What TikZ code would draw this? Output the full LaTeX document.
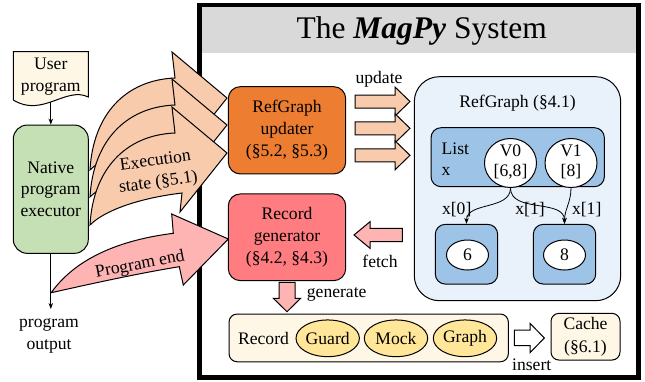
\documentclass[tikz,border=0pt]{standalone}
\usepackage{fontspec}
\setmainfont{Liberation Serif}
\usetikzlibrary{arrows.meta,shapes.geometric,calc}
\definecolor{cream}{HTML}{FFF7E5}
\definecolor{execgreen}{HTML}{C5E0B4}
\definecolor{lorange}{HTML}{F8CBAD}
\definecolor{updorange}{HTML}{ED7D31}
\definecolor{recred}{HTML}{FF7C80}
\definecolor{lpink}{HTML}{FFB4B4}
\definecolor{rgbg}{HTML}{E9F1FA}
\definecolor{listblue}{HTML}{9DC3E6}
\definecolor{ellyellow}{HTML}{FFE699}
\definecolor{titlegray}{HTML}{D9D9D9}
\begin{document}
\begin{tikzpicture}[x=1pt,y=-1pt,
  every node/.style={font=\fontsize{17.6}{21.7}\selectfont, inner sep=0pt, align=center},
  rbox/.style={draw=black, line width=1pt, rectangle, rounded corners=#1},
  rbox/.default=12pt,
  ell/.style={draw=black, line width=1pt, ellipse},
  bigarr/.style={draw=black, line width=1pt, line join=miter},
  conn/.style={-{Stealth[length=6pt,width=4.5pt]}, line width=0.8pt},
]
\useasboundingbox (0,0) rectangle (645,381);

% frame
\fill[white] (199.7,5) rectangle (638.3,377.5);
\fill[titlegray] (201.9,7.2) rectangle (636.1,52.7);
\draw[line width=4.5pt] (199.7,5) rectangle (638.3,377.5);
\node[font=\fontsize{31.5}{36}\selectfont, anchor=base] (title) at (421.7,38.5) {The \textbf{\textit{MagPy}} System};

% user program (document shape)
\draw[fill=cream, line width=1pt] (13.3,51.7) -- (88.3,51.7) -- (88.3,97) .. controls (66,86) and (42,118) .. (13.3,100) -- cycle;
\node[minimum width=75pt, minimum height=50pt] (user) at (50.8,76.7) {User\\program};

% executor
\node[rbox=14pt, fill=execgreen, minimum width=75pt, minimum height=128.3pt] (exec) at (50.8,189.2) {Native\\program\\executor};
\draw[conn] (user.south) -- (exec.north);
\coordinate (outp) at (50.8,309);
\draw[conn] (exec.south) -- (outp);
\node (outtxt) at (49,336) {program\\output};
\coordinate (petail) at (51.2,292.7);

% execution state arrows
\foreach \d in {-55,-28,0}{
  \draw[bigarr, fill=lorange, shift={(0,\d)}] (90,225) .. controls (93,170) and (125,135) .. (175,133) -- (172,107) -- (227,153) -- (180,212) -- (182,193) .. controls (140,198) and (105,210) .. cycle;
}
\node[rotate=8] (exectxt) at (157,172.5) {Execution\\state (§5.1)};

% program end arrow
\draw[bigarr, fill=lpink] (petail) .. controls (76,258) and (120,240) .. (173.3,233.3) -- (171.7,214) -- (228.3,239) -- (183.3,285) -- (179.3,266.7) .. controls (140,273) and (90,284) .. cycle;
\node[rotate=11] (petxt) at (140,265) {Program end};

% RefGraph updater and Record generator
\node[rbox, fill=updorange, minimum width=117.4pt, minimum height=87.3pt] (upd) at (287,130.3) {RefGraph\\updater\\(§5.2, §5.3)};
\node[rbox, fill=recred, minimum width=117.4pt, minimum height=86.7pt] (gen) at (287,237.3) {Record\\generator\\(§4.2, §4.3)};

% update arrows
\foreach \c in {101.5,128.3,155.3}{
  \draw[bigarr, fill=lorange] (355,\c-6.5) -- (395,\c-6.5) -- (395,\c-14.5) -- (410,\c) -- (395,\c+14.5) -- (395,\c+6.5) -- (355,\c+6.5) -- cycle;
}
\node (updtxt) at (379,79) {update};

% RefGraph container
\node[rbox=25pt, fill=rgbg, minimum width=206.4pt, minimum height=224pt] (rg) at (517.5,188.7) {};
\node (rgt) at (517.5,102.7) {RefGraph (§4.1)};
\node[rbox=10pt, fill=listblue, minimum width=173.3pt, minimum height=59pt] (list) at (517.7,157.2) {};
\node[anchor=west, align=left] (listt) at (441.5,159.2) {List\\x};
\node[ell, fill=white, minimum width=52pt, minimum height=49pt] (v0) at (510.5,163) {};
\node[font=\fontsize{17.6}{20}\selectfont] (v0t) at (510.5,161.7) {V0\\{[6,8]}};
\node[ell, fill=white, minimum width=52pt, minimum height=49pt] (v1) at (571,163) {};
\node[font=\fontsize{17.6}{20}\selectfont] (v1t) at (571,161.7) {V1\\{[8]}};

\node[rbox=10pt, fill=listblue, minimum width=62.4pt, minimum height=59.7pt] (b6) at (466.5,254.2) {};
\node[ell, fill=white, minimum width=42pt, minimum height=30pt] (e6) at (467.5,255) {6};
\node[rbox=10pt, fill=listblue, minimum width=62.4pt, minimum height=59.7pt] (b8) at (564.5,254.2) {};
\node[ell, fill=white, minimum width=42pt, minimum height=30pt] (e8) at (564.5,255) {8};

\draw[conn] (v0.south) to[out=-90,in=90] (b6.north);
\draw[conn] (v0.south) to[out=-90,in=90] (b8.north);
\draw[conn] (v1.south) to[out=-90,in=90] (b8.north);
\node (l1) at (456.7,210) {x[0]};
\node (l2) at (530,210) {x[1]};
\node (l3) at (586.7,210) {x[1]};

% fetch arrow
\draw[bigarr, fill=lpink] (402.3,228.3) -- (370,228.3) -- (370,221.7) -- (354,235) -- (370,248.3) -- (370,241.7) -- (402.3,241.7) -- cycle;
\node (fetchtxt) at (380,261.7) {fetch};

% generate arrow
\draw[bigarr, fill=lpink] (279,282.3) -- (279,298.3) -- (273.3,298.3) -- (287,311.7) -- (300.7,298.3) -- (295,298.3) -- (295,282.3) -- cycle;
\node (gentxt) at (336.7,294) {generate};

% Record box
\node[rbox=8pt, fill=cream, minimum width=279.3pt, minimum height=47.7pt] (rec) at (368.7,337.9) {};
\node (rect) at (263.5,338.3) {Record};
\node[ell, fill=ellyellow, minimum width=63.4pt, minimum height=36.7pt] (guard) at (327.7,338.3) {Guard};
\node[ell, fill=ellyellow, minimum width=63.4pt, minimum height=36.7pt] (mock) at (396,338.3) {Mock};
\node[ell, fill=ellyellow, minimum width=63.4pt, minimum height=36.7pt] (graph) at (465,338.3) {Graph};

% insert arrow
\draw[bigarr, fill=white] (514.3,330) -- (530,330) -- (530,323.3) -- (544.3,338) -- (530,352.7) -- (530,345.7) -- (514.3,345.7) -- cycle;
\node (instxt) at (531.7,365) {insert};

% Cache
\node[rbox=8pt, fill=cream, minimum width=69pt, minimum height=46.7pt, font=\fontsize{17.6}{22.7}\selectfont] (cache) at (585.5,336.7) {Cache\\(§6.1)};
\end{tikzpicture}
\end{document}
